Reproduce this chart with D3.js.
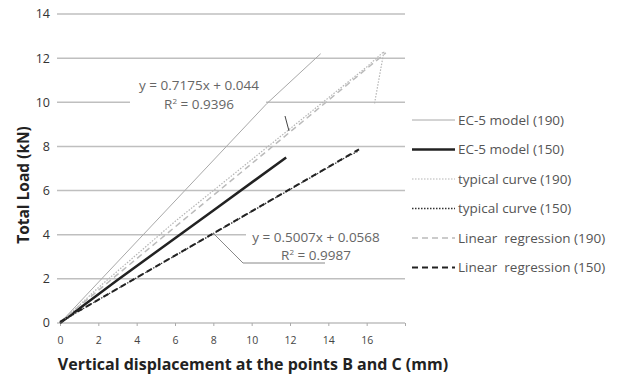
<!DOCTYPE html>
<html>
<head>
<meta charset="utf-8">
<script src="https://cdn.jsdelivr.net/npm/d3@7"></script>
<style>
  body { margin: 0; background: #fff; }
  text { font-family: "Open Sans", "DejaVu Sans", sans-serif; }
</style>
</head>
<body>
<div id="chart"></div>
<script>
// data (x: displacement mm, y: load kN)
const ec5_190 = [[0, 0], [10.8, 9.95], [13.6, 12.2]];
const ec5_150 = [[0, 0], [3, 1.95], [8, 5.1], [11.8, 7.5]];
const typ_190 = [[0, 0], [1, 0.8], [2, 1.6], [3, 2.35], [4, 3.1], [5, 3.85], [6, 4.6], [7, 5.3], [8, 6.0], [9, 6.7],
  [10, 7.4], [11, 8.1], [12, 8.8], [13, 9.5], [14, 10.2], [15, 10.9], [16, 11.6], [16.9, 12.3], [16.4, 9.9]];
const typ_150 = [[0, 0], [1, 0.55], [2, 1.05], [3, 1.55], [4, 2.05], [5, 2.55], [6, 3.05], [7, 3.55], [8, 4.05],
  [9, 4.55], [10, 5.05], [11, 5.55], [12, 6.05], [13, 6.55], [14, 7.05], [15, 7.55], [15.6, 7.8]];
const reg_190 = { a: 0.7175, b: 0.044, xmax: 17.0 };
const reg_150 = { a: 0.5007, b: 0.0568, xmax: 15.6 };
const xTicks = [0, 2, 4, 6, 8, 10, 12, 14, 16];
const yTicks = [0, 2, 4, 6, 8, 10, 12, 14];
const legendLabels = ["EC-5 model (190)", "EC-5 model (150)", "typical curve (190)",
  "typical curve (150)", "Linear  regression (190)", "Linear  regression (150)"];

const W = 625, H = 376;
const svg = d3.select('#chart').append('svg')
  .attr('width', W).attr('height', H);

const x = d3.scaleLinear().domain([0, 18]).range([60, 405]);
const y = d3.scaleLinear().domain([0, 14]).range([323, 14]);

// gridlines
svg.append('g')
  .selectAll('line')
  .data(yTicks.filter(d => d > 0))
  .enter().append('line')
  .attr('x1', 57).attr('x2', 405)
  .attr('y1', d => y(d)).attr('y2', d => y(d))
  .attr('stroke', '#bfbfbf')
  .attr('stroke-width', 1.5);

// x axis
const xAxis = svg.append('g')
  .attr('transform', `translate(0, ${y(0)})`)
  .call(d3.axisBottom(x).tickValues(xTicks.concat([18])).tickSize(3).tickFormat(d => d === 18 ? '' : d));
xAxis.select('.domain').attr('stroke', '#bfbfbf').attr('stroke-width', 1.5)
  .attr('d', `M57,0H405`);
xAxis.selectAll('.tick line').attr('stroke', '#aaa');
xAxis.selectAll('.tick text')
  .attr('fill', '#444').attr('dy', '1.4em')
  .style('font-size', '10.5px');

// y axis labels
svg.append('g')
  .selectAll('text')
  .data(yTicks)
  .enter().append('text')
  .attr('x', 50).attr('y', d => y(d))
  .attr('dy', '0.35em')
  .attr('text-anchor', 'end')
  .attr('fill', '#333')
  .style('font-size', '12.5px')
  .text(d => d);

const line = d3.line().x(d => x(d[0])).y(d => y(d[1]));
const regPts = r => [[0, r.b], [r.xmax, r.a * r.xmax + r.b]];

const styles = [
  { data: ec5_190, stroke: '#a8a8a8', width: 1, dash: null },
  { data: ec5_150, stroke: '#222', width: 2.5, dash: null },
  { data: typ_190, stroke: '#b5b5b5', width: 1.2, dash: '1.5,1.5' },
  { data: typ_150, stroke: '#333', width: 1.3, dash: '1.5,1.5' },
  { data: regPts(reg_190), stroke: '#bbb', width: 1.5, dash: '6,4' },
  { data: regPts(reg_150), stroke: '#222', width: 2, dash: '6,4' },
];

// annotation boxes (white) under the lines
svg.append('rect').attr('x', 130).attr('y', 74).attr('width', 136).attr('height', 40).attr('fill', '#fff');
svg.append('rect').attr('x', 246).attr('y', 225).attr('width', 159).attr('height', 36).attr('fill', '#fff');

svg.append('g')
  .selectAll('path')
  .data(styles)
  .enter().append('path')
  .attr('fill', 'none')
  .attr('stroke', d => d.stroke)
  .attr('stroke-width', d => d.width)
  .attr('stroke-dasharray', d => d.dash)
  .attr('d', d => line(d.data));

// regression labels
const ann = svg.append('g').attr('fill', '#666').style('font-size', '13.5px').attr('text-anchor', 'middle');
ann.append('text').attr('x', 199).attr('y', 90).text('y = 0.7175x + 0.044');
ann.append('text').attr('x', 199).attr('y', 109).html('R<tspan dy="-5" font-size="8">2</tspan><tspan dy="5"> = 0.9396</tspan>');
ann.append('text').attr('x', 316).attr('y', 242).text('y = 0.5007x + 0.0568');
ann.append('text').attr('x', 316).attr('y', 260).html('R<tspan dy="-5" font-size="8">2</tspan><tspan dy="5"> = 0.9987</tspan>');

// leader lines
svg.append('line').attr('x1', 285).attr('y1', 116).attr('x2', 289).attr('y2', 131)
  .attr('stroke', '#444').attr('stroke-width', 1);
svg.append('path')
  .attr('d', `M${x(8)},${y(reg_150.a * 8 + reg_150.b)}L243,263H325`)
  .attr('fill', 'none').attr('stroke', '#888').attr('stroke-width', 1);

// legend
const leg = svg.append('g');
const rows = leg.selectAll('g')
  .data(styles)
  .enter().append('g')
  .attr('transform', (d, i) => `translate(412, ${120 + i * 29.5})`);
rows.append('line')
  .attr('x1', 0).attr('x2', 43)
  .attr('stroke', d => d.stroke)
  .attr('stroke-width', d => d.width)
  .attr('stroke-dasharray', d => d.dash);
rows.append('text')
  .attr('x', 46).attr('dy', '0.35em')
  .attr('fill', '#555')
  .style('font-size', '13.5px')
  .style('white-space', 'pre')
  .text((d, i) => legendLabels[i]);

// axis titles
svg.append('text')
  .attr('x', 253).attr('y', 370)
  .attr('text-anchor', 'middle')
  .attr('fill', '#222')
  .style('font-size', '16px').style('font-weight', 'bold')
  .text('Vertical displacement at the points B and C (mm)');
svg.append('text')
  .attr('transform', 'translate(29, 185) rotate(-90)')
  .attr('text-anchor', 'middle')
  .attr('fill', '#222')
  .style('font-size', '15.5px').style('font-weight', 'bold')
  .text('Total Load (kN)');
</script>
</body>
</html>
